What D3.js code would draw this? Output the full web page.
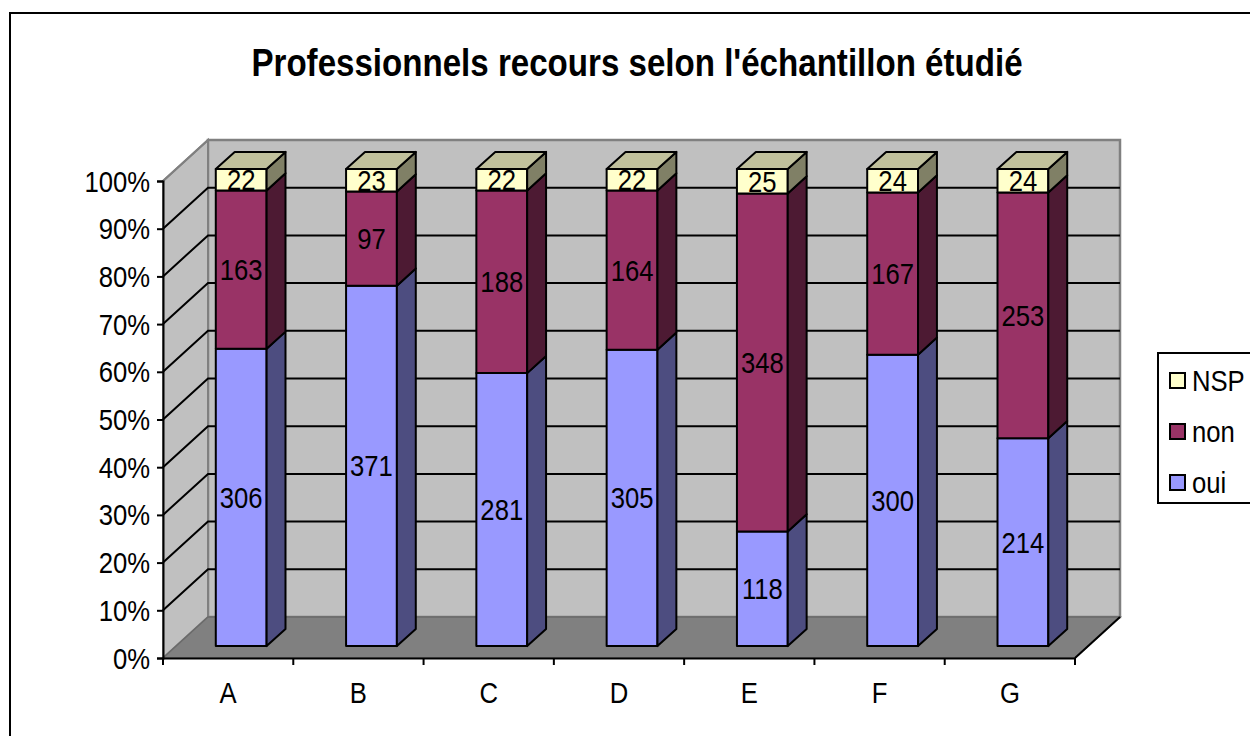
<!DOCTYPE html>
<html>
<head>
<meta charset="utf-8">
<script src="https://cdn.jsdelivr.net/npm/d3@7"></script>
<style>
body { margin: 0; background: #fff; }
text { font-family: "Liberation Sans", Arial, sans-serif; fill: #000; }
</style>
</head>
<body>
<div id="figure"></div>
<script>
var categories = ["A", "B", "C", "D", "E", "F", "G"];
var oui = [306, 371, 281, 305, 118, 300, 214];
var non = [163, 97, 188, 164, 348, 167, 253];
var nsp = [22, 23, 22, 22, 25, 24, 24];
var yTicks = [0, 0.1, 0.2, 0.3, 0.4, 0.5, 0.6, 0.7, 0.8, 0.9, 1];
var seriesNames = ["oui", "non", "NSP"];

var w = 1250;
var h = 736;
var depthX = 45, depthY = -41;   // full depth of the 3D box
var zFront = 0.29, zBack = 0.71; // bar position in depth
var sx = 0.87;                    // narrow text like the original

var colors = {
	oui: { front: "#9999ff", side: "#4d4d80" },
	non: { front: "#993366", side: "#4d1a33" },
	NSP: { front: "#ffffcc", side: "#808066", top: "#c0c09c" }
};

var svg = d3.select('#figure')
	.append('svg')
	.attr('width', w)
	.attr('height', h);

svg.append('rect')
	.attr('x', 10).attr('y', 13)
	.attr('width', 1260).attr('height', 760)
	.attr('fill', '#fff')
	.attr('stroke', '#000')
	.attr('stroke-width', 2);

function label(g, x, y, txt, anchor, size, weight, scale){
	g.append('g')
		.attr('transform', 'translate(' + x + ',' + y + ') scale(' + (scale || sx) + ',1)')
		.append('text')
		.attr('text-anchor', anchor)
		.attr('font-size', size)
		.attr('font-weight', weight || 'normal')
		.text(txt);
}

label(svg, 637, 76, "Professionnels recours selon l'échantillon étudié", 'middle', 38.5, 'bold', 0.86);

var xScale = d3.scaleBand()
	.domain(categories)
	.range([163, 1075])
	.paddingInner(0.61)
	.paddingOuter(0.305);

var xSlot = d3.scaleBand()
	.domain(categories)
	.range([163, 1075]);

var yScale = d3.scaleLinear()
	.domain([0, 1])
	.range([658, 181]);

function P(x, v, z){
	return [x + z * depthX, yScale(v) + z * depthY];
}
function poly(pts){
	return pts.map(function(p){ return p.join(','); }).join(' ');
}

var x0 = xSlot.range()[0], x1 = xSlot.range()[1];
var walls = svg.append('g').classed('walls', true);

// back wall
walls.append('polygon')
	.attr('points', poly([P(x0, 1, 1), P(x1, 1, 1), P(x1, 0, 1), P(x0, 0, 1)]))
	.attr('fill', '#c0c0c0')
	.attr('stroke', '#808080')
	.attr('stroke-width', 2.5);
// side wall
walls.append('polygon')
	.attr('points', poly([P(x0, 1, 0), P(x0, 1, 1), P(x0, 0, 1), P(x0, 0, 0)]))
	.attr('fill', '#c0c0c0')
	.attr('stroke', '#808080')
	.attr('stroke-width', 2);
// floor
walls.append('polygon')
	.attr('points', poly([P(x0, 0, 0), P(x0, 0, 1), P(x1, 0, 1), P(x1, 0, 0)]))
	.attr('fill', '#808080')
	.attr('stroke', '#6a6a6a')
	.attr('stroke-width', 1.5);
walls.append('line')
	.attr('x1', P(x1, 0, 0)[0]).attr('y1', P(x1, 0, 0)[1])
	.attr('x2', P(x1, 0, 1)[0]).attr('y2', P(x1, 0, 1)[1])
	.attr('stroke', '#000').attr('stroke-width', 2);

// gridlines
var grid = svg.append('g').classed('gridlines', true);
yTicks.filter(function(d){ return d > 0 && d < 1; }).forEach(function(v){
	var a = P(x0, v, 0), b = P(x0, v, 1), c = P(x1, v, 1);
	grid.append('polyline')
		.attr('points', poly([a, b, c]))
		.attr('fill', 'none')
		.attr('stroke', '#000')
		.attr('stroke-width', 2);
});
grid.append('line')
	.attr('x1', P(x0, 1, 0)[0]).attr('y1', P(x0, 1, 0)[1])
	.attr('x2', P(x0, 1, 1)[0]).attr('y2', P(x0, 1, 1)[1])
	.attr('stroke', '#808080').attr('stroke-width', 2);

// axes
var yAxis = d3.axisLeft(yScale)
	.tickValues(yTicks)
	.tickSize(6)
	.tickFormat("");
svg.append('g')
	.classed('yAxis', true)
	.attr('transform', 'translate(' + x0 + ',0)')
	.call(yAxis)
	.call(function(g){
		g.select('.domain').attr('stroke', '#000').attr('stroke-width', 2);
		g.selectAll('.tick line').attr('stroke', '#000').attr('stroke-width', 2);
	});
yTicks.forEach(function(v){
	label(svg, 150, yScale(v) + 10.5, d3.format('.0%')(v), 'end', 29.5);
});

var xAxis = d3.axisBottom(xSlot).tickSize(0).tickFormat("");
svg.append('g')
	.classed('xAxis', true)
	.attr('transform', 'translate(0,' + yScale(0) + ')')
	.call(xAxis)
	.call(function(g){
		g.select('.domain').attr('stroke', '#000').attr('stroke-width', 2);
	});
var xTickPos = categories.map(function(c){ return xSlot(c); }).concat([x1]);
svg.append('g').selectAll('line')
	.data(xTickPos)
	.enter()
	.append('line')
	.attr('x1', function(d){ return d; })
	.attr('x2', function(d){ return d; })
	.attr('y1', yScale(0))
	.attr('y2', yScale(0) + 7)
	.attr('stroke', '#000')
	.attr('stroke-width', 2);
categories.forEach(function(c){
	label(svg, xSlot(c) + xSlot.bandwidth() / 2, 703, c, 'middle', 29.5);
});

// bars
var bars = svg.append('g').classed('bars', true);
var labels = svg.append('g').classed('barLabels', true);
categories.forEach(function(c, i){
	var vals = [oui[i], non[i], nsp[i]];
	var total = d3.sum(vals);
	var xl = xScale(c), xr = xl + xScale.bandwidth();
	var acc = 0;
	vals.forEach(function(val, j){
		var v0 = acc / total, v1 = (acc + val) / total;
		acc += val;
		var col = colors[seriesNames[j]];
		// front face
		bars.append('polygon')
			.attr('points', poly([P(xl, v1, zFront), P(xr, v1, zFront), P(xr, v0, zFront), P(xl, v0, zFront)]))
			.attr('fill', col.front)
			.attr('stroke', '#000')
			.attr('stroke-width', 2)
			.attr('stroke-linejoin', 'round');
		// side face
		bars.append('polygon')
			.attr('points', poly([P(xr, v1, zFront), P(xr, v1, zBack), P(xr, v0, zBack), P(xr, v0, zFront)]))
			.attr('fill', col.side)
			.attr('stroke', '#000')
			.attr('stroke-width', 2)
			.attr('stroke-linejoin', 'round');
		if (j === vals.length - 1){
			bars.append('polygon')
				.attr('points', poly([P(xl, 1, zFront), P(xr, 1, zFront), P(xr, 1, zBack), P(xl, 1, zBack)]))
				.attr('fill', col.top)
				.attr('stroke', '#000')
				.attr('stroke-width', 2)
				.attr('stroke-linejoin', 'round');
		}
		var mid = P((xl + xr) / 2, (v0 + v1) / 2, zFront);
		label(labels, mid[0], mid[1] + 10.5, val, 'middle', 29.5);
	});
});

// legend
var legend = svg.append('g').classed('legend', true);
legend.append('rect')
	.attr('x', 1158).attr('y', 353)
	.attr('width', 120).attr('height', 150)
	.attr('fill', '#fff')
	.attr('stroke', '#000')
	.attr('stroke-width', 2);
seriesNames.slice().reverse().forEach(function(s, k){
	var y = 373 + k * 51;
	legend.append('rect')
		.attr('x', 1170).attr('y', y)
		.attr('width', 15).attr('height', 15)
		.attr('fill', colors[s].front)
		.attr('stroke', '#000')
		.attr('stroke-width', 2);
	label(legend, 1192, y + 17.5, s, 'start', 29.5);
});
</script>
</body>
</html>
